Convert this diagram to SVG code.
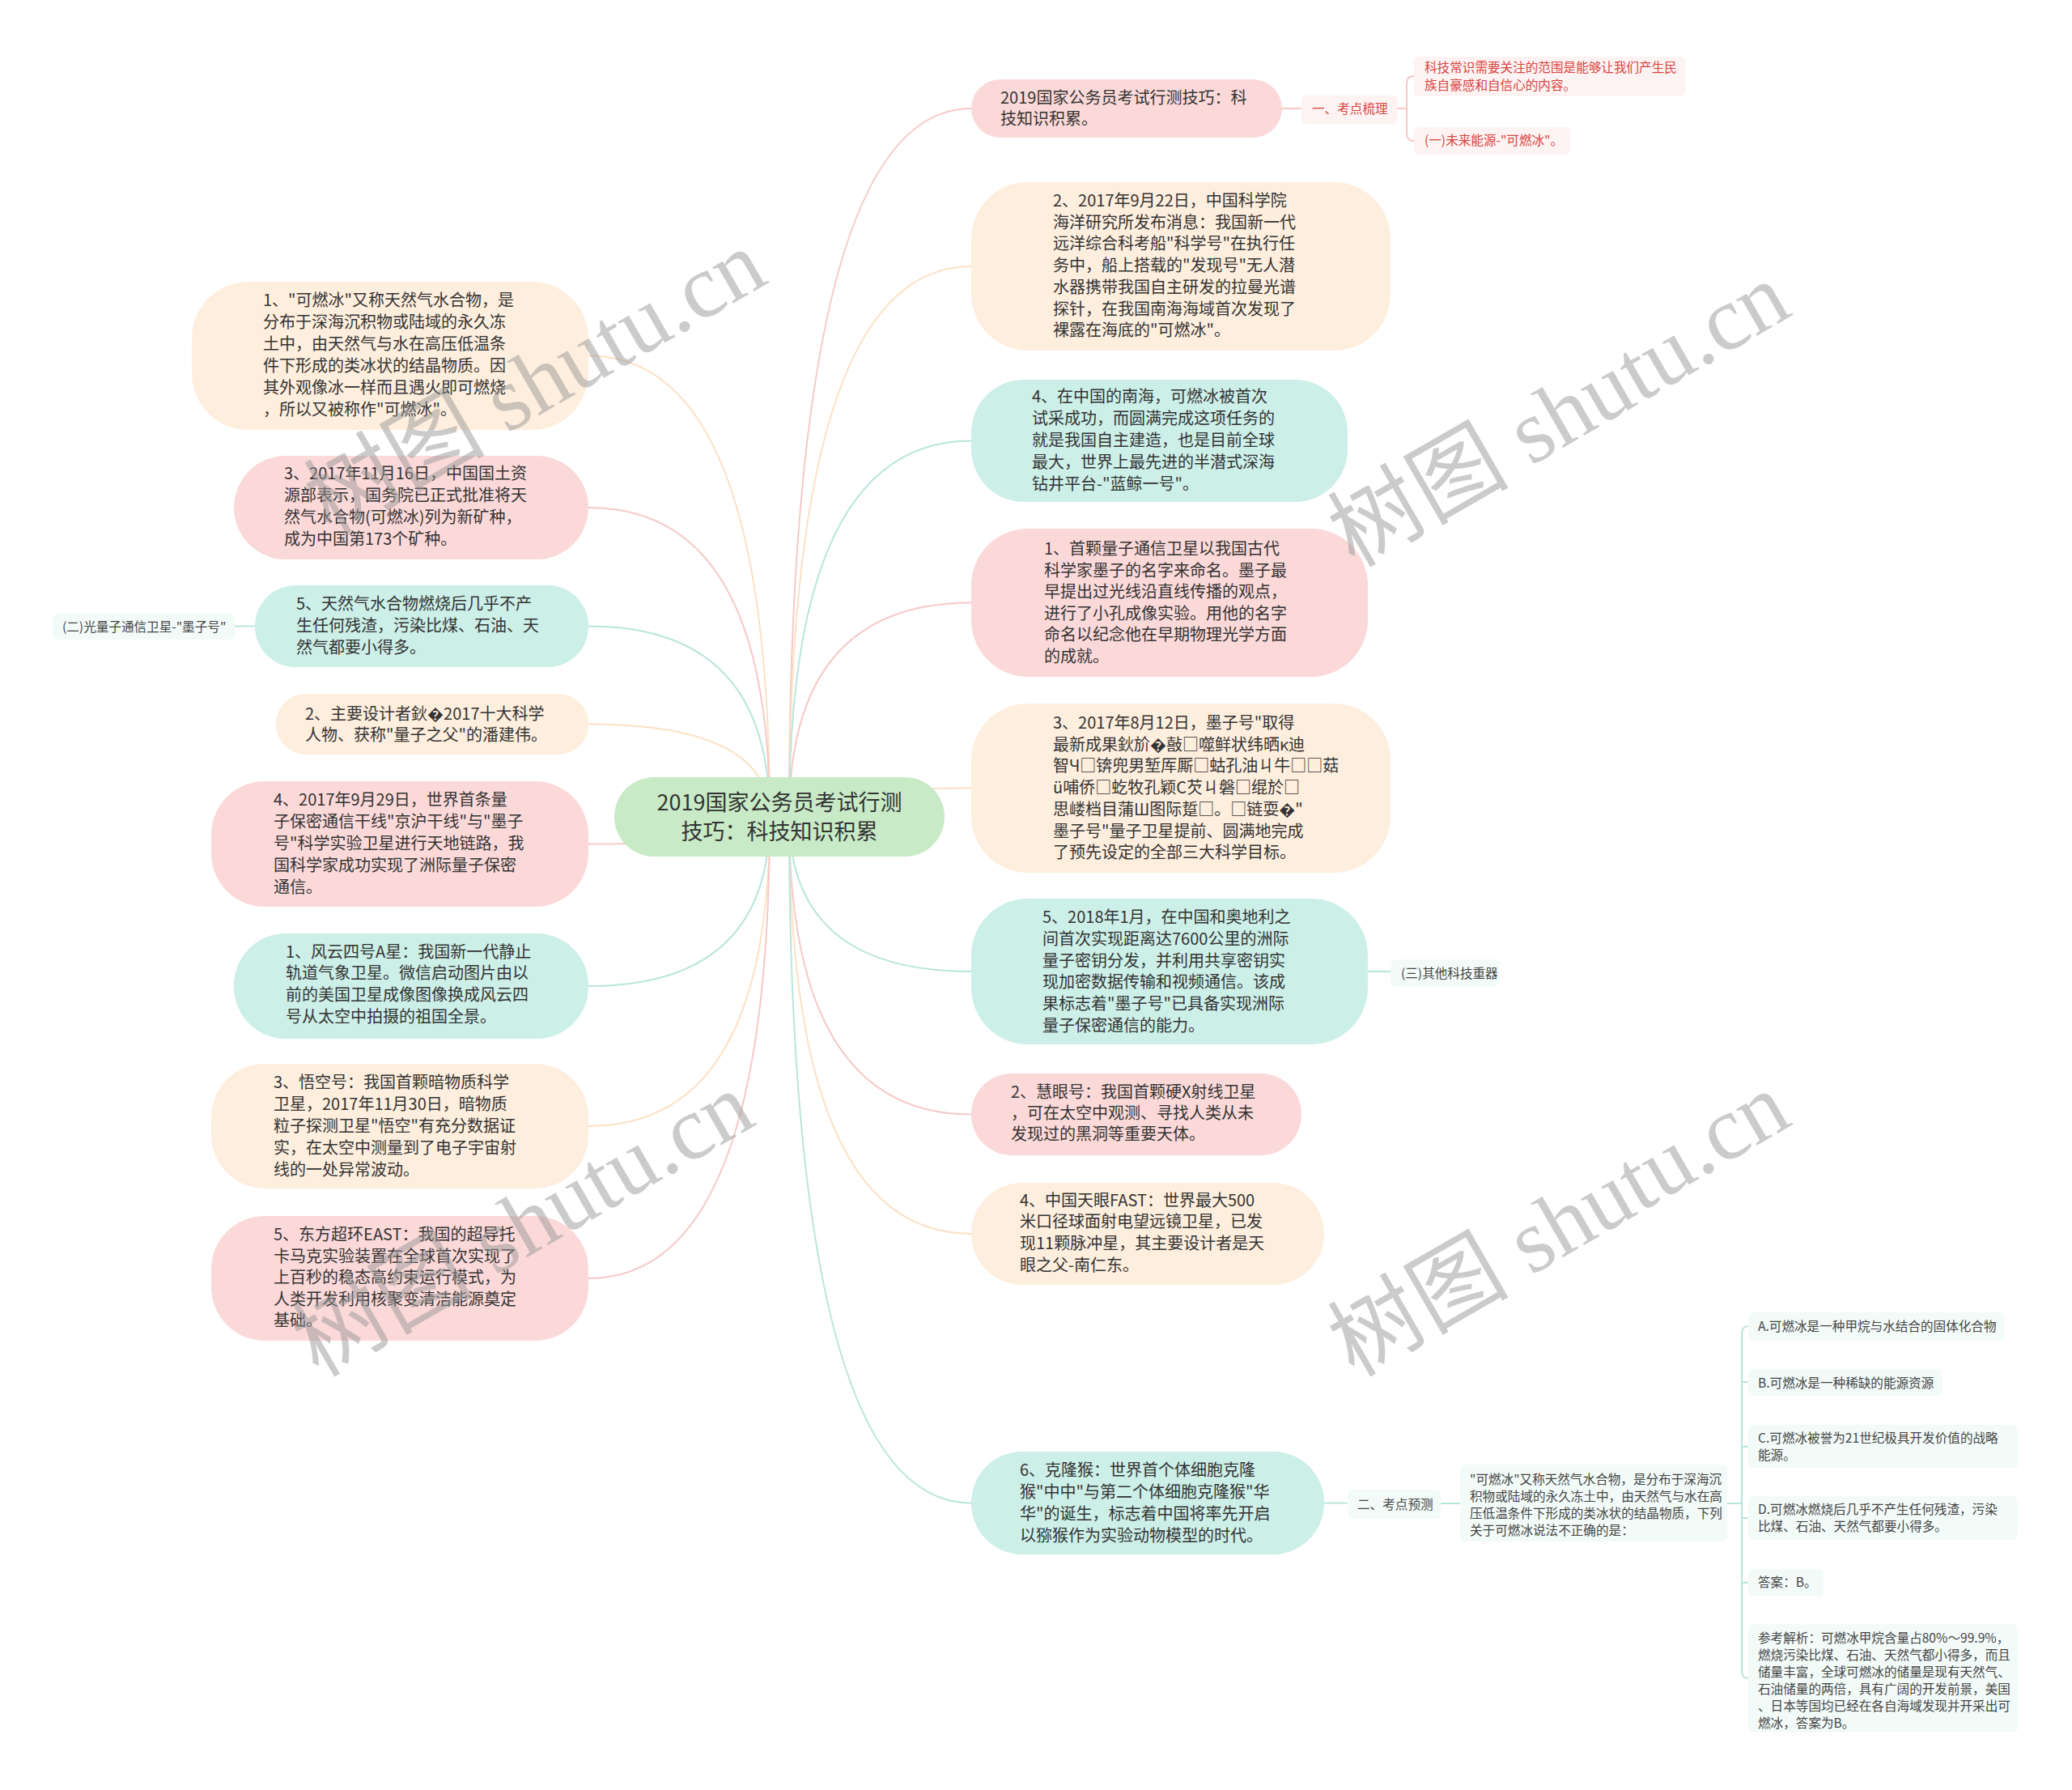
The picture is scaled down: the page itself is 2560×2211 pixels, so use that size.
<svg xmlns="http://www.w3.org/2000/svg" width="2560" height="2211" viewBox="0 0 2560 2211">
<style>
.t{font-family:"Noto Sans CJK SC","Noto Sans",sans-serif;font-size:20px;fill:#333}
.c{font-family:"Noto Sans CJK SC","Noto Sans",sans-serif;font-size:27px;fill:#333}
.s{font-family:"Noto Sans CJK SC","Noto Sans",sans-serif;font-size:15.6px;fill:#444}
.r{fill:#d9443f}
.pk{fill:#fcd9d9}.pe{fill:#feeedd}.mi{fill:#ccefe8}
.lp{fill:#fdf3f3}.lm{fill:#f3fbf9}
.cp{fill:none;stroke:#f6c8c8;stroke-width:2}
.ce{fill:none;stroke:#fbe1c3;stroke-width:2}
.cm{fill:none;stroke:#b8e5dc;stroke-width:2}
.wm{font-family:"Liberation Serif","Noto Sans CJK SC",serif;font-size:112px;fill:#999;opacity:0.5}
</style>
<rect width="2560" height="2211" fill="#ffffff"/>
<g id="connectors">
<path class="cp" d="M975,1009 Q975,134 1200,134"/>
<path class="ce" d="M975,1009 Q975,329 1200,329"/>
<path class="cm" d="M975,1009 Q975,544.5 1200,544.5"/>
<path class="cp" d="M975,1009 Q975,744.5 1200,744.5"/>
<path class="ce" d="M975,1009 Q975,973.5 1200,973.5"/>
<path class="cm" d="M975,1009 Q975,1200 1200,1200"/>
<path class="cp" d="M975,1009 Q975,1376.5 1200,1376.5"/>
<path class="ce" d="M975,1009 Q975,1524 1200,1524"/>
<path class="cm" d="M975,1009 Q975,1856.5 1200,1856.5"/>
<path class="ce" d="M951,1009 Q951,439.5 727,439.5"/>
<path class="cp" d="M951,1009 Q951,627 727,627"/>
<path class="cm" d="M951,1009 Q951,773.5 727,773.5"/>
<path class="ce" d="M951,1009 Q951,894.5 727,894.5"/>
<path class="cp" d="M951,1009 Q951,1042.5 727,1042.5"/>
<path class="cm" d="M951,1009 Q951,1218 727,1218"/>
<path class="ce" d="M951,1009 Q951,1391 727,1391"/>
<path class="cp" d="M951,1009 Q951,1579 727,1579"/>
<path class="cp" d="M1584,134 H1608"/>
<path class="cp" d="M1727,134 H1738 M1747,94 Q1738,94 1738,104 V164 Q1738,174 1747,174"/>
<path class="cm" d="M1690,1200 H1718"/>
<path class="cm" d="M315,773.5 H290"/>
<path class="cm" d="M1636,1856.5 H1665"/>
<path class="cm" d="M1780,1857 H1804"/>
<path class="cm" d="M2134,1857 H2152"/>
<path class="cm" d="M2160,1638 Q2152,1638 2152,1648 V2063 Q2152,2073 2160,2073 M2152,1707 H2160 M2152,1787 H2160 M2152,1875 H2160 M2152,1955 H2160"/>
</g>
<g id="center">
<rect x="759" y="960" width="408" height="98" rx="49" fill="#c8eac6"/>
<text class="c" text-anchor="middle"><tspan x="963" y="1000.5">2019国家公务员考试行测</tspan><tspan x="963" y="1036.5">技巧：科技知识积累</tspan></text>
</g>
<g id="r1">
<rect class="pk" x="1200" y="98" width="384" height="72" rx="36"/>
<text class="t"><tspan x="1236" y="128">2019国家公务员考试行测技巧：科</tspan><tspan x="1236" dy="26">技知识积累。</tspan></text>
</g>
<g id="r1a">
<rect class="lp" x="1608" y="118" width="119" height="35" rx="6"/>
<text class="s r" x="1621" y="139.5">一、考点梳理</text>
</g>
<g id="r1b">
<rect class="lp" x="1747" y="70" width="335" height="49" rx="6"/>
<text class="s r"><tspan x="1760" y="89">科技常识需要关注的范围是能够让我们产生民</tspan><tspan x="1760" dy="21.5">族自豪感和自信心的内容。</tspan></text>
</g>
<g id="r1c">
<rect class="lp" x="1747" y="157" width="193" height="34" rx="6"/>
<text class="s r" x="1760" y="179">(一)未来能源-"可燃冰"。</text>
</g>
<g id="r2">
<rect class="pe" x="1200" y="225" width="518" height="208" rx="70"/>
<text class="t"><tspan x="1301" y="255">2、2017年9月22日，中国科学院</tspan><tspan x="1301" dy="26.7">海洋研究所发布消息：我国新一代</tspan><tspan x="1301" dy="26.7">远洋综合科考船"科学号"在执行任</tspan><tspan x="1301" dy="26.7">务中，船上搭载的"发现号"无人潜</tspan><tspan x="1301" dy="26.7">水器携带我国自主研发的拉曼光谱</tspan><tspan x="1301" dy="26.7">探针，在我国南海海域首次发现了</tspan><tspan x="1301" dy="26.7">裸露在海底的"可燃冰"。</tspan></text>
</g>
<g id="r3">
<rect class="mi" x="1200" y="469" width="465" height="151" rx="65"/>
<text class="t"><tspan x="1275" y="497">4、在中国的南海，可燃冰被首次</tspan><tspan x="1275" dy="27">试采成功，而圆满完成这项任务的</tspan><tspan x="1275" dy="27">就是我国自主建造，也是目前全球</tspan><tspan x="1275" dy="27">最大，世界上最先进的半潜式深海</tspan><tspan x="1275" dy="27">钻井平台-"蓝鲸一号"。</tspan></text>
</g>
<g id="r4">
<rect class="pk" x="1200" y="653" width="490" height="183" rx="70"/>
<text class="t"><tspan x="1290" y="685">1、首颗量子通信卫星以我国古代</tspan><tspan x="1290" dy="26.6">科学家墨子的名字来命名。墨子最</tspan><tspan x="1290" dy="26.6">早提出过光线沿直线传播的观点，</tspan><tspan x="1290" dy="26.6">进行了小孔成像实验。用他的名字</tspan><tspan x="1290" dy="26.6">命名以纪念他在早期物理光学方面</tspan><tspan x="1290" dy="26.6">的成就。</tspan></text>
</g>
<g id="r5">
<rect class="pe" x="1200" y="869" width="518" height="209" rx="70"/>
<text class="t"><tspan x="1301" y="900">3、2017年8月12日，墨子号"取得</tspan><tspan x="1301" dy="26.7">最新成果鈥斺�敼□噬鲜状纬晒κ迪</tspan><tspan x="1301" dy="26.7">智Ч□锛兜男堑厍厮□蛄孔油ㄐ牛□□菇</tspan><tspan x="1301" dy="26.7">ü哺侨□虼牧孔颖C芡ㄐ磐□绲於□</tspan><tspan x="1301" dy="26.7">思嵝档目蒲Ш图际踅□。□链耍�"</tspan><tspan x="1301" dy="26.7">墨子号"量子卫星提前、圆满地完成</tspan><tspan x="1301" dy="26.7">了预先设定的全部三大科学目标。</tspan></text>
</g>
<g id="r6">
<rect class="mi" x="1200" y="1110" width="490" height="180" rx="70"/>
<text class="t"><tspan x="1288" y="1140">5、2018年1月，在中国和奥地利之</tspan><tspan x="1288" dy="26.8">间首次实现距离达7600公里的洲际</tspan><tspan x="1288" dy="26.8">量子密钥分发，并利用共享密钥实</tspan><tspan x="1288" dy="26.8">现加密数据传输和视频通信。该成</tspan><tspan x="1288" dy="26.8">果标志着"墨子号"已具备实现洲际</tspan><tspan x="1288" dy="26.8">量子保密通信的能力。</tspan></text>
</g>
<g id="r6a">
<rect class="lm" x="1718" y="1185" width="135" height="33" rx="6"/>
<text class="s" x="1731" y="1207.5">(三)其他科技重器</text>
</g>
<g id="r7">
<rect class="pk" x="1200" y="1326" width="408" height="101" rx="50"/>
<text class="t"><tspan x="1249" y="1356">2、慧眼号：我国首颗硬X射线卫星</tspan><tspan x="1249" dy="26">，可在太空中观测、寻找人类从未</tspan><tspan x="1249" dy="26">发现过的黑洞等重要天体。</tspan></text>
</g>
<g id="r8">
<rect class="pe" x="1200" y="1461" width="436" height="126" rx="63"/>
<text class="t"><tspan x="1260" y="1489.5">4、中国天眼FAST：世界最大500</tspan><tspan x="1260" dy="26.7">米口径球面射电望远镜卫星，已发</tspan><tspan x="1260" dy="26.7">现11颗脉冲星，其主要设计者是天</tspan><tspan x="1260" dy="26.7">眼之父-南仁东。</tspan></text>
</g>
<g id="r9">
<rect class="mi" x="1200" y="1793" width="436" height="127" rx="63"/>
<text class="t"><tspan x="1260" y="1822.6">6、克隆猴：世界首个体细胞克隆</tspan><tspan x="1260" dy="27">猴"中中"与第二个体细胞克隆猴"华</tspan><tspan x="1260" dy="27">华"的诞生，标志着中国将率先开启</tspan><tspan x="1260" dy="27">以猕猴作为实验动物模型的时代。</tspan></text>
</g>
<g id="r9a">
<rect class="lm" x="1665" y="1840" width="115" height="36" rx="6"/>
<text class="s" x="1677" y="1863.5">二、考点预测</text>
</g>
<g id="q">
<rect class="lm" x="1804" y="1809" width="330" height="95" rx="6"/>
<text class="s"><tspan x="1816" y="1832.5">"可燃冰"又称天然气水合物，是分布于深海沉</tspan><tspan x="1816" dy="21.3">积物或陆域的永久冻土中，由天然气与水在高</tspan><tspan x="1816" dy="21.3">压低温条件下形成的类冰状的结晶物质，下列</tspan><tspan x="1816" dy="21.3">关于可燃冰说法不正确的是：</tspan></text>
</g>
<g id="qa">
<rect class="lm" x="2160" y="1621" width="317" height="35" rx="6"/>
<text class="s" x="2172" y="1643.5">A.可燃冰是一种甲烷与水结合的固体化合物</text>
</g>
<g id="qb">
<rect class="lm" x="2160" y="1691" width="240" height="33" rx="6"/>
<text class="s" x="2172" y="1713.5">B.可燃冰是一种稀缺的能源资源</text>
</g>
<g id="qc">
<rect class="lm" x="2160" y="1760" width="333" height="54" rx="6"/>
<text class="s"><tspan x="2172" y="1781.5">C.可燃冰被誉为21世纪极具开发价值的战略</tspan><tspan x="2172" dy="21.5">能源。</tspan></text>
</g>
<g id="qd">
<rect class="lm" x="2160" y="1848" width="333" height="54" rx="6"/>
<text class="s"><tspan x="2172" y="1870">D.可燃冰燃烧后几乎不产生任何残渣，污染</tspan><tspan x="2172" dy="21.3">比煤、石油、天然气都要小得多。</tspan></text>
</g>
<g id="qans">
<rect class="lm" x="2160" y="1938" width="93" height="34" rx="6"/>
<text class="s" x="2172" y="1960">答案：B。</text>
</g>
<g id="qexp">
<rect class="lm" x="2160" y="2006" width="333" height="134" rx="6"/>
<text class="s"><tspan x="2172" y="2028.5">参考解析：可燃冰甲烷含量占80%～99.9%，</tspan><tspan x="2172" dy="21">燃烧污染比煤、石油、天然气都小得多，而且</tspan><tspan x="2172" dy="21">储量丰富，全球可燃冰的储量是现有天然气、</tspan><tspan x="2172" dy="21">石油储量的两倍，具有广阔的开发前景，美国</tspan><tspan x="2172" dy="21">、日本等国均已经在各自海域发现并开采出可</tspan><tspan x="2172" dy="21">燃冰，答案为B。</tspan></text>
</g>
<g id="l1">
<rect class="pe" x="237" y="348" width="490" height="183" rx="70"/>
<text class="t"><tspan x="325" y="377.6">1、"可燃冰"又称天然气水合物，是</tspan><tspan x="325" dy="27">分布于深海沉积物或陆域的永久冻</tspan><tspan x="325" dy="27">土中，由天然气与水在高压低温条</tspan><tspan x="325" dy="27">件下形成的类冰状的结晶物质。因</tspan><tspan x="325" dy="27">其外观像冰一样而且遇火即可燃烧</tspan><tspan x="325" dy="27">，所以又被称作"可燃冰"。</tspan></text>
</g>
<g id="l2">
<rect class="pk" x="289" y="563" width="438" height="128" rx="64"/>
<text class="t"><tspan x="351" y="591.5">3、2017年11月16日，中国国土资</tspan><tspan x="351" dy="27">源部表示，国务院已正式批准将天</tspan><tspan x="351" dy="27">然气水合物(可燃冰)列为新矿种，</tspan><tspan x="351" dy="27">成为中国第173个矿种。</tspan></text>
</g>
<g id="l3">
<rect class="mi" x="315" y="723" width="412" height="101" rx="50"/>
<text class="t"><tspan x="366" y="753">5、天然气水合物燃烧后几乎不产</tspan><tspan x="366" dy="27">生任何残渣，污染比煤、石油、天</tspan><tspan x="366" dy="27">然气都要小得多。</tspan></text>
</g>
<g id="l3a">
<rect class="lm" x="65" y="758" width="225" height="32" rx="6"/>
<text class="s" x="77" y="779.5">(二)光量子通信卫星-"墨子号"</text>
</g>
<g id="l4">
<rect class="pe" x="341" y="857" width="386" height="75" rx="37"/>
<text class="t"><tspan x="377" y="888.7">2、主要设计者鈥�2017十大科学</tspan><tspan x="377" dy="26">人物、获称"量子之父"的潘建伟。</tspan></text>
</g>
<g id="l5">
<rect class="pk" x="261" y="965" width="466" height="155" rx="66"/>
<text class="t"><tspan x="338" y="995">4、2017年9月29日，世界首条量</tspan><tspan x="338" dy="26.9">子保密通信干线"京沪干线"与"墨子</tspan><tspan x="338" dy="26.9">号"科学实验卫星进行天地链路，我</tspan><tspan x="338" dy="26.9">国科学家成功实现了洲际量子保密</tspan><tspan x="338" dy="26.9">通信。</tspan></text>
</g>
<g id="l6">
<rect class="mi" x="289" y="1153" width="438" height="130" rx="64"/>
<text class="t"><tspan x="353" y="1182.5">1、风云四号A星：我国新一代静止</tspan><tspan x="353" dy="26.7">轨道气象卫星。微信启动图片由以</tspan><tspan x="353" dy="26.7">前的美国卫星成像图像换成风云四</tspan><tspan x="353" dy="26.7">号从太空中拍摄的祖国全景。</tspan></text>
</g>
<g id="l7">
<rect class="pe" x="261" y="1314" width="466" height="154" rx="66"/>
<text class="t"><tspan x="338" y="1344">3、悟空号：我国首颗暗物质科学</tspan><tspan x="338" dy="27">卫星，2017年11月30日，暗物质</tspan><tspan x="338" dy="27">粒子探测卫星"悟空"有充分数据证</tspan><tspan x="338" dy="27">实，在太空中测量到了电子宇宙射</tspan><tspan x="338" dy="27">线的一处异常波动。</tspan></text>
</g>
<g id="l8">
<rect class="pk" x="261" y="1502" width="466" height="154" rx="66"/>
<text class="t"><tspan x="338" y="1532">5、东方超环EAST：我国的超导托</tspan><tspan x="338" dy="26.5">卡马克实验装置在全球首次实现了</tspan><tspan x="338" dy="26.5">上百秒的稳态高约束运行模式，为</tspan><tspan x="338" dy="26.5">人类开发利用核聚变清洁能源奠定</tspan><tspan x="338" dy="26.5">基础。</tspan></text>
</g>
<g id="watermarks">
<text class="wm" text-anchor="middle" transform="translate(680,505) rotate(-30)">树图 shutu.cn</text>
<text class="wm" text-anchor="middle" transform="translate(1945,545) rotate(-30)">树图 shutu.cn</text>
<text class="wm" text-anchor="middle" transform="translate(665,1545) rotate(-30)">树图 shutu.cn</text>
<text class="wm" text-anchor="middle" transform="translate(1945,1545) rotate(-30)">树图 shutu.cn</text>
</g>
</svg>
